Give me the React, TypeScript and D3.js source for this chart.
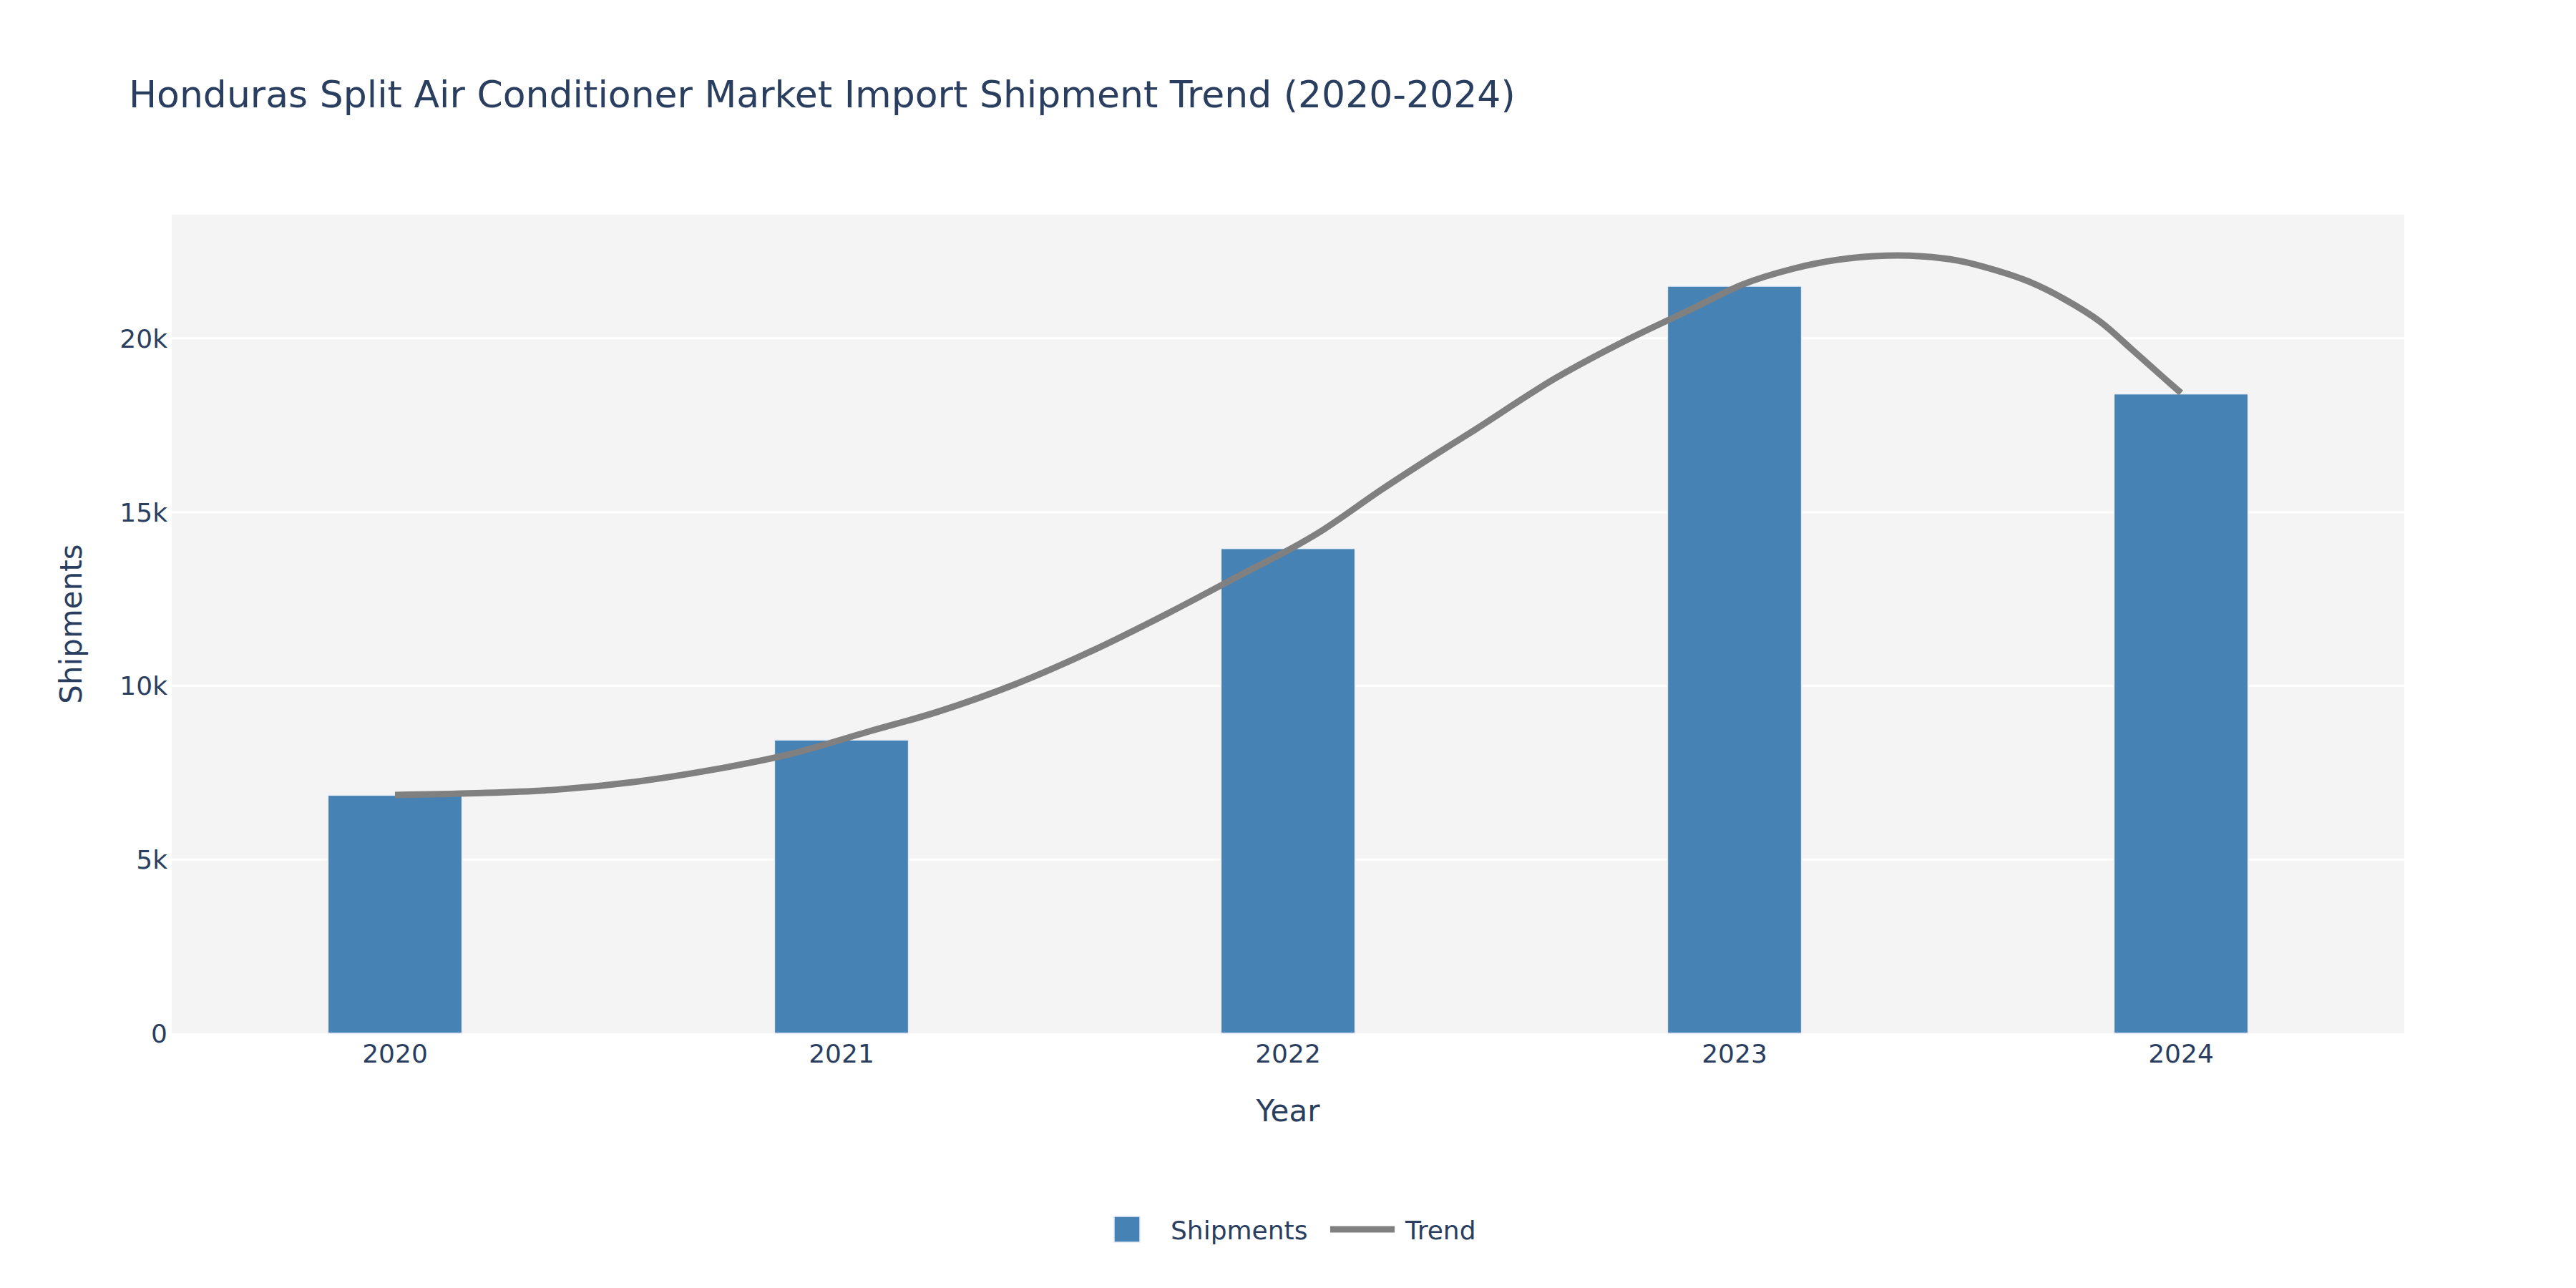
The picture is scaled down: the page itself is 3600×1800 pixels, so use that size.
import * as d3 from 'd3';
import React from 'react';

const years = [2020, 2021, 2022, 2023, 2024];
const shipments = [6850, 8440, 13950, 21500, 18400];

// trend curve
const trendYears = [
  2020.0, 2020.18, 2020.36, 2020.54, 2020.71, 2020.89, 2021.06, 2021.22, 2021.39, 2021.56,
  2021.73, 2021.91, 2022.0, 2022.08, 2022.21, 2022.32, 2022.42, 2022.6, 2022.76, 2022.9,
  2023.02, 2023.13, 2023.23, 2023.34, 2023.42, 2023.5, 2023.58, 2023.66, 2023.74, 2023.82,
  2023.89, 2023.96, 2024.0,
];
const trendValues = [
  6860, 6910, 7010, 7240, 7580, 8050, 8680, 9270, 10050, 11000,
  12080, 13300, 13900, 14500, 15650, 16570, 17380, 18860, 19960, 20820,
  21560, 22000, 22260, 22380, 22360, 22240, 21980, 21630, 21120, 20470,
  19680, 18880, 18430,
];

const yTicks = [0, 5000, 10000, 15000, 20000];
const yTickLabels = ['0', '5k', '10k', '15k', '20k'];
const xTickLabels = ['2020', '2021', '2022', '2023', '2024'];

const W = 3600;
const H = 1800;
const font = '"DejaVu Sans", verdana, arial, sans-serif';
const textColor = '#2a3f5f';
const barColor = '#4682B4';
const lineColor = '#808080';

const App: React.FC = () => {
  const margin = { top: 300, right: 240, bottom: 356, left: 240 };
  const x = d3.scaleLinear().domain([2019.5, 2024.5]).range([margin.left, W - margin.right]);
  const y = d3.scaleLinear().domain([0, 23560]).range([H - margin.bottom, margin.top]);
  const barW = 0.3;

  const trend = d3
    .line<number>()
    .x((_, i) => x(trendYears[i]))
    .y(d => y(d))
    .curve(d3.curveCatmullRom);

  return (
    <svg
      width={W}
      height={H}
      style={{ position: 'absolute', left: 0, top: 0, background: '#fff' }}
      fontFamily={font}
    >
      <text x={180} y={150} fontSize={52} fill={textColor}>
        Honduras Split Air Conditioner Market Import Shipment Trend (2020-2024)
      </text>

      <rect
        x={x(2019.5)}
        y={y(23560)}
        width={x(2024.5) - x(2019.5)}
        height={y(0) - y(23560)}
        fill="#f4f4f4"
      />

      {yTicks.map((t, i) => (
        <g key={t}>
          {t > 0 && (
            <line x1={x(2019.5)} x2={x(2024.5)} y1={y(t)} y2={y(t)} stroke="#fff" strokeWidth={3} />
          )}
          <text x={234} y={y(t)} dy="0.36em" textAnchor="end" fontSize={36} fill={textColor}>
            {yTickLabels[i]}
          </text>
        </g>
      ))}

      {years.map((yr, i) => (
        <rect
          key={yr}
          x={x(yr - barW / 2)}
          y={y(shipments[i])}
          width={x(yr + barW / 2) - x(yr - barW / 2)}
          height={y(0) - y(shipments[i])}
          fill={barColor}
          stroke="#E5ECF6"
          strokeWidth={1.5}
        />
      ))}

      <path
        d={trend(trendValues) ?? ''}
        fill="none"
        stroke={lineColor}
        strokeWidth={9}
        strokeLinejoin="round"
      />

      {years.map((yr, i) => (
        <text key={yr} x={x(yr)} y={1485} textAnchor="middle" fontSize={36} fill={textColor}>
          {xTickLabels[i]}
        </text>
      ))}

      <text x={(x(2019.5) + x(2024.5)) / 2} y={1567} textAnchor="middle" fontSize={42} fill={textColor}>
        Year
      </text>
      <text
        transform={`translate(114,${(y(0) + y(23560)) / 2}) rotate(-90)`}
        textAnchor="middle"
        fontSize={42}
        fill={textColor}
      >
        Shipments
      </text>

      {/* legend */}
      <g>
        <rect x={1557} y={1700} width={36} height={36} fill={barColor} stroke="#E5ECF6" strokeWidth={1.5} />
        <text x={1636} y={1732} fontSize={36} fill={textColor}>
          Shipments
        </text>
        <line x1={1859} x2={1949} y1={1718} y2={1718} stroke={lineColor} strokeWidth={9} />
        <text x={1964} y={1732} fontSize={36} fill={textColor}>
          Trend
        </text>
      </g>
    </svg>
  );
};

export default App;
